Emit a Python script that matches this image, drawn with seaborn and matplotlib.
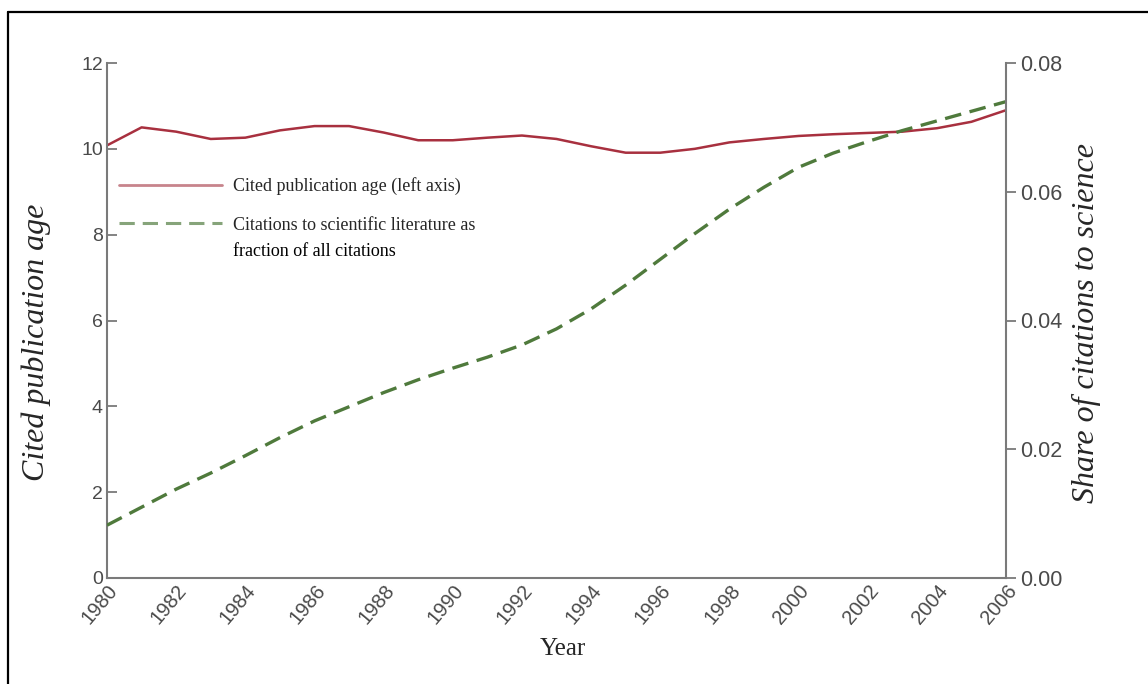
import numpy as np
import pandas as pd
import matplotlib
matplotlib.use('Agg')
import matplotlib.pyplot as plt
import seaborn as sns
from matplotlib.lines import Line2D

years = list(range(1980, 2007))
pub_age = [10.08, 10.50, 10.40, 10.23, 10.26, 10.43, 10.53, 10.53, 10.38, 10.20,
           10.20, 10.26, 10.31, 10.23, 10.06, 9.91, 9.91, 10.00, 10.15, 10.23,
           10.30, 10.34, 10.37, 10.40, 10.48, 10.63, 10.90]
sci_share = [0.0082, 0.0110, 0.0138, 0.0163, 0.0190, 0.0218, 0.0244, 0.0266, 0.0288,
             0.0308, 0.0326, 0.0343, 0.0362, 0.0387, 0.0418, 0.0455, 0.0495, 0.0535,
             0.0573, 0.0607, 0.0638, 0.0660, 0.0678, 0.0695, 0.0710, 0.0725, 0.0740]
x_ticks = list(range(1980, 2007, 2))
left_ticks = [0, 2, 4, 6, 8, 10, 12]
right_ticks = [0.00, 0.02, 0.04, 0.06, 0.08]

df = pd.DataFrame({'year': years, 'age': pub_age, 'share': sci_share})

sns.set_style('white')
plt.rcParams['font.family'] = ['Liberation Sans', 'DejaVu Sans']

RED = '#a8303f'
GREEN = '#4f7a3c'
SPINE = '#7a7a7a'
TICKC = '#4a4a4a'
SERIF = ['Liberation Serif', 'DejaVu Serif']
DASH = (0, (5, 2.6))

fig = plt.figure(figsize=(11.48, 6.84), dpi=100)
ax = fig.add_axes([107/1148, 1-578/684, (1006-107)/1148, (578-63)/684])
ax2 = ax.twinx()

sns.lineplot(data=df, x='year', y='age', ax=ax, color=RED, lw=1.8)
sns.lineplot(data=df, x='year', y='share', ax=ax2, color=GREEN, lw=2.4,
             dashes=False, linestyle=DASH)

ax.set_xlim(1980, 2006)
ax.set_ylim(0, 12)
ax2.set_ylim(0, 0.08)
ax.set_xticks(x_ticks)
ax.set_yticks(left_ticks)
ax2.set_yticks(right_ticks)
ax2.set_yticklabels([f'{v:.2f}' for v in right_ticks])

for a in (ax, ax2):
    a.spines['top'].set_visible(False)
    for s in ('left', 'right', 'bottom'):
        a.spines[s].set_color(SPINE)
        a.spines[s].set_linewidth(1.5)
ax.spines['right'].set_visible(False)
ax2.spines['left'].set_visible(False)
ax2.spines['bottom'].set_visible(False)

ax.tick_params(axis='x', direction='in', length=9, width=1.3, color=SPINE,
               labelsize=14.5, labelcolor=TICKC, pad=2)
ax.tick_params(axis='y', direction='in', length=7, width=1.3, color=SPINE,
               labelsize=14, labelcolor=TICKC, pad=3)
ax2.tick_params(axis='y', direction='out', length=7, width=1.3, color=SPINE,
                labelsize=15.5, labelcolor=TICKC, pad=3)
for lab in ax.get_xticklabels():
    lab.set_rotation(50)
    lab.set_ha('right')
    lab.set_va('top')
    lab.set_rotation_mode('anchor')

ax.set_xlabel('Year', family=SERIF, fontsize=18)
ax.xaxis.set_label_coords(0.507, -0.117)
ax.set_ylabel('Cited publication age', family=SERIF, style='italic', fontsize=23)
ax.yaxis.set_label_coords(-0.062, 0.457)
ax2.set_ylabel('Share of citations to science', family=SERIF, style='italic', fontsize=23)
ax2.yaxis.set_label_coords(1.073, 0.495)

handles = [Line2D([], [], color='#c7848c', lw=2.0),
           Line2D([], [], color='#86a47a', lw=2.2, linestyle=DASH)]
labels = ['Cited publication age (left axis)', 'Citations to scientific literature as']
leg = ax.legend(handles, labels, loc='upper left', bbox_to_anchor=(12/899, (578-177)/515),
                frameon=False, prop={'family': SERIF, 'size': 13},
                handlelength=5.7, handletextpad=0.6, labelspacing=1.2,
                borderaxespad=0, borderpad=0)
fig.canvas.draw()
tb = leg.get_texts()[1].get_window_extent()
inv = ax.transAxes.inverted()
x0, y0 = inv.transform((tb.x0, (tb.y0 + tb.y1) / 2 - 26))
ax.text(x0, y0, 'fraction of all citations', transform=ax.transAxes,
        family=SERIF, fontsize=13, ha='left', va='center', color='black')

# figure frame
fig.add_artist(Line2D([8/1148, 8/1148], [-0.05, 1-12/684], transform=fig.transFigure,
                      color='black', lw=1.6))
fig.add_artist(Line2D([8/1148, 1.05], [1-12/684, 1-12/684], transform=fig.transFigure,
                      color='black', lw=1.6))

fig.savefig('out.png', dpi=100)
